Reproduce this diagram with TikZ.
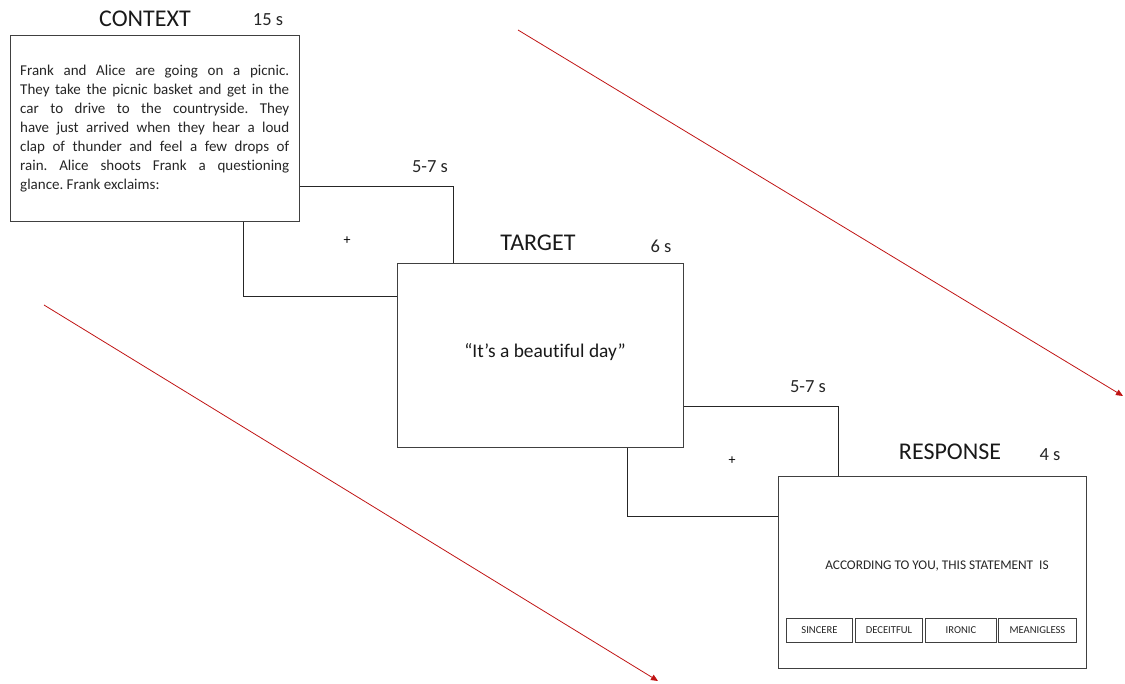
\documentclass[tikz,border=0pt]{standalone}
\usepackage{fontspec}
\setmainfont{Carlito}[Ligatures=NoCommon]
\usetikzlibrary{arrows.meta}
\definecolor{frame}{RGB}{64,64,64}
\definecolor{arrowred}{RGB}{192,20,20}
\frenchspacing
\tikzset{
  x=1pt, y=-1pt,
  screen/.style={draw=frame, line width=1.1pt, fill=white, inner sep=0pt, anchor=north west},
  fixbox/.style={draw=black!85, line width=0.9pt, inner sep=0pt, anchor=north west},
  title/.style={font=\fontsize{24}{28}\selectfont, text=black!90, inner sep=0pt},
  dur/.style={font=\fontsize{18.5}{22}\selectfont, text=black!85, inner sep=0pt},
  btn/.style={draw=frame, line width=0.9pt, inner sep=0pt, anchor=north west},
  btntext/.style={font=\fontsize{10.6}{12}\selectfont, text=black!85, inner sep=0pt},
  flow/.style={draw=arrowred, line width=0.8pt, -{Triangle[length=7pt,width=6pt]}},
}
\begin{document}
\begin{tikzpicture}
\useasboundingbox (0,0) rectangle (1125,684);
% red flow arrows
\coordinate (a1s) at (518,30);
\coordinate (a1e) at (1123,396);
\coordinate (a2s) at (44,305);
\coordinate (a2e) at (658,681);
\draw[flow] (a1s) -- (a1e);
\draw[flow] (a2s) -- (a2e);
% fixation screens (behind)
\node[fixbox, minimum width=210pt, minimum height=110pt] (fix1) at (243,186) {};
\node[fixbox, minimum width=211pt, minimum height=110pt] (fix2) at (627,406) {};
\node[font=\fontsize{14}{16}\selectfont, inner sep=0pt] (plus1) at (347,241) {+};
\node[font=\fontsize{14}{16}\selectfont, inner sep=0pt] (plus2) at (732,461) {+};
\node[dur] (d1) at (430,167) {5-7 s};
\node[dur] (d2) at (808,387) {5-7 s};
% context screen
\node[screen, minimum width=289pt, minimum height=186pt] (ctx) at (10,35) {};
\node[title] (ctxt) at (145,19) {CONTEXT};
\node[dur] (ctxd) at (268,20) {15 s};
\node[anchor=north west, inner sep=0pt, text width=269pt, align=justify, font=\fontsize{15}{18.9}\selectfont, text=black!85] (story) at (20,65) {%
Frank and Alice are going on a picnic.\linebreak
They take the picnic basket and get in the\linebreak
car to drive to the countryside. They\linebreak
have just arrived when they hear a loud\linebreak
clap of thunder and feel a few drops of\linebreak
rain. Alice shoots Frank a questioning\linebreak
glance. Frank exclaims:};
% target screen
\node[screen, minimum width=286pt, minimum height=184pt] (tgt) at (397,263) {};
\node[title] (tgtt) at (538,243) {TARGET};
\node[dur] (tgtd) at (661,246) {6 s};
\node[font=\fontsize{19.4}{22}\selectfont, text=black!90, inner sep=0pt] (utter) at (545,352) {“It’s a beautiful day”};
% response screen
\node[screen, minimum width=308pt, minimum height=192pt] (resp) at (778,476) {};
\node[title] (respt) at (950,452) {RESPONSE};
\node[dur] (respd) at (1050,455) {4 s};
\node[font=\fontsize{13.3}{15}\selectfont, text=black!85, inner sep=0pt] (q) at (937,566) {ACCORDING TO YOU, THIS STATEMENT\ \ IS};
\node[btn, minimum width=66pt, minimum height=24pt] (b1) at (786,618) {};
\node[btn, minimum width=67pt, minimum height=24pt] (b2) at (855,618) {};
\node[btn, minimum width=71pt, minimum height=24pt] (b3) at (925,618) {};
\node[btn, minimum width=78pt, minimum height=24pt] (b4) at (998,618) {};
\node[btntext] (l1) at (b1.center) {SINCERE};
\node[btntext] (l2) at (b2.center) {DECEITFUL};
\node[btntext] (l3) at (b3.center) {IRONIC};
\node[btntext] (l4) at (b4.center) {MEANIGLESS};
\end{tikzpicture}
\end{document}
